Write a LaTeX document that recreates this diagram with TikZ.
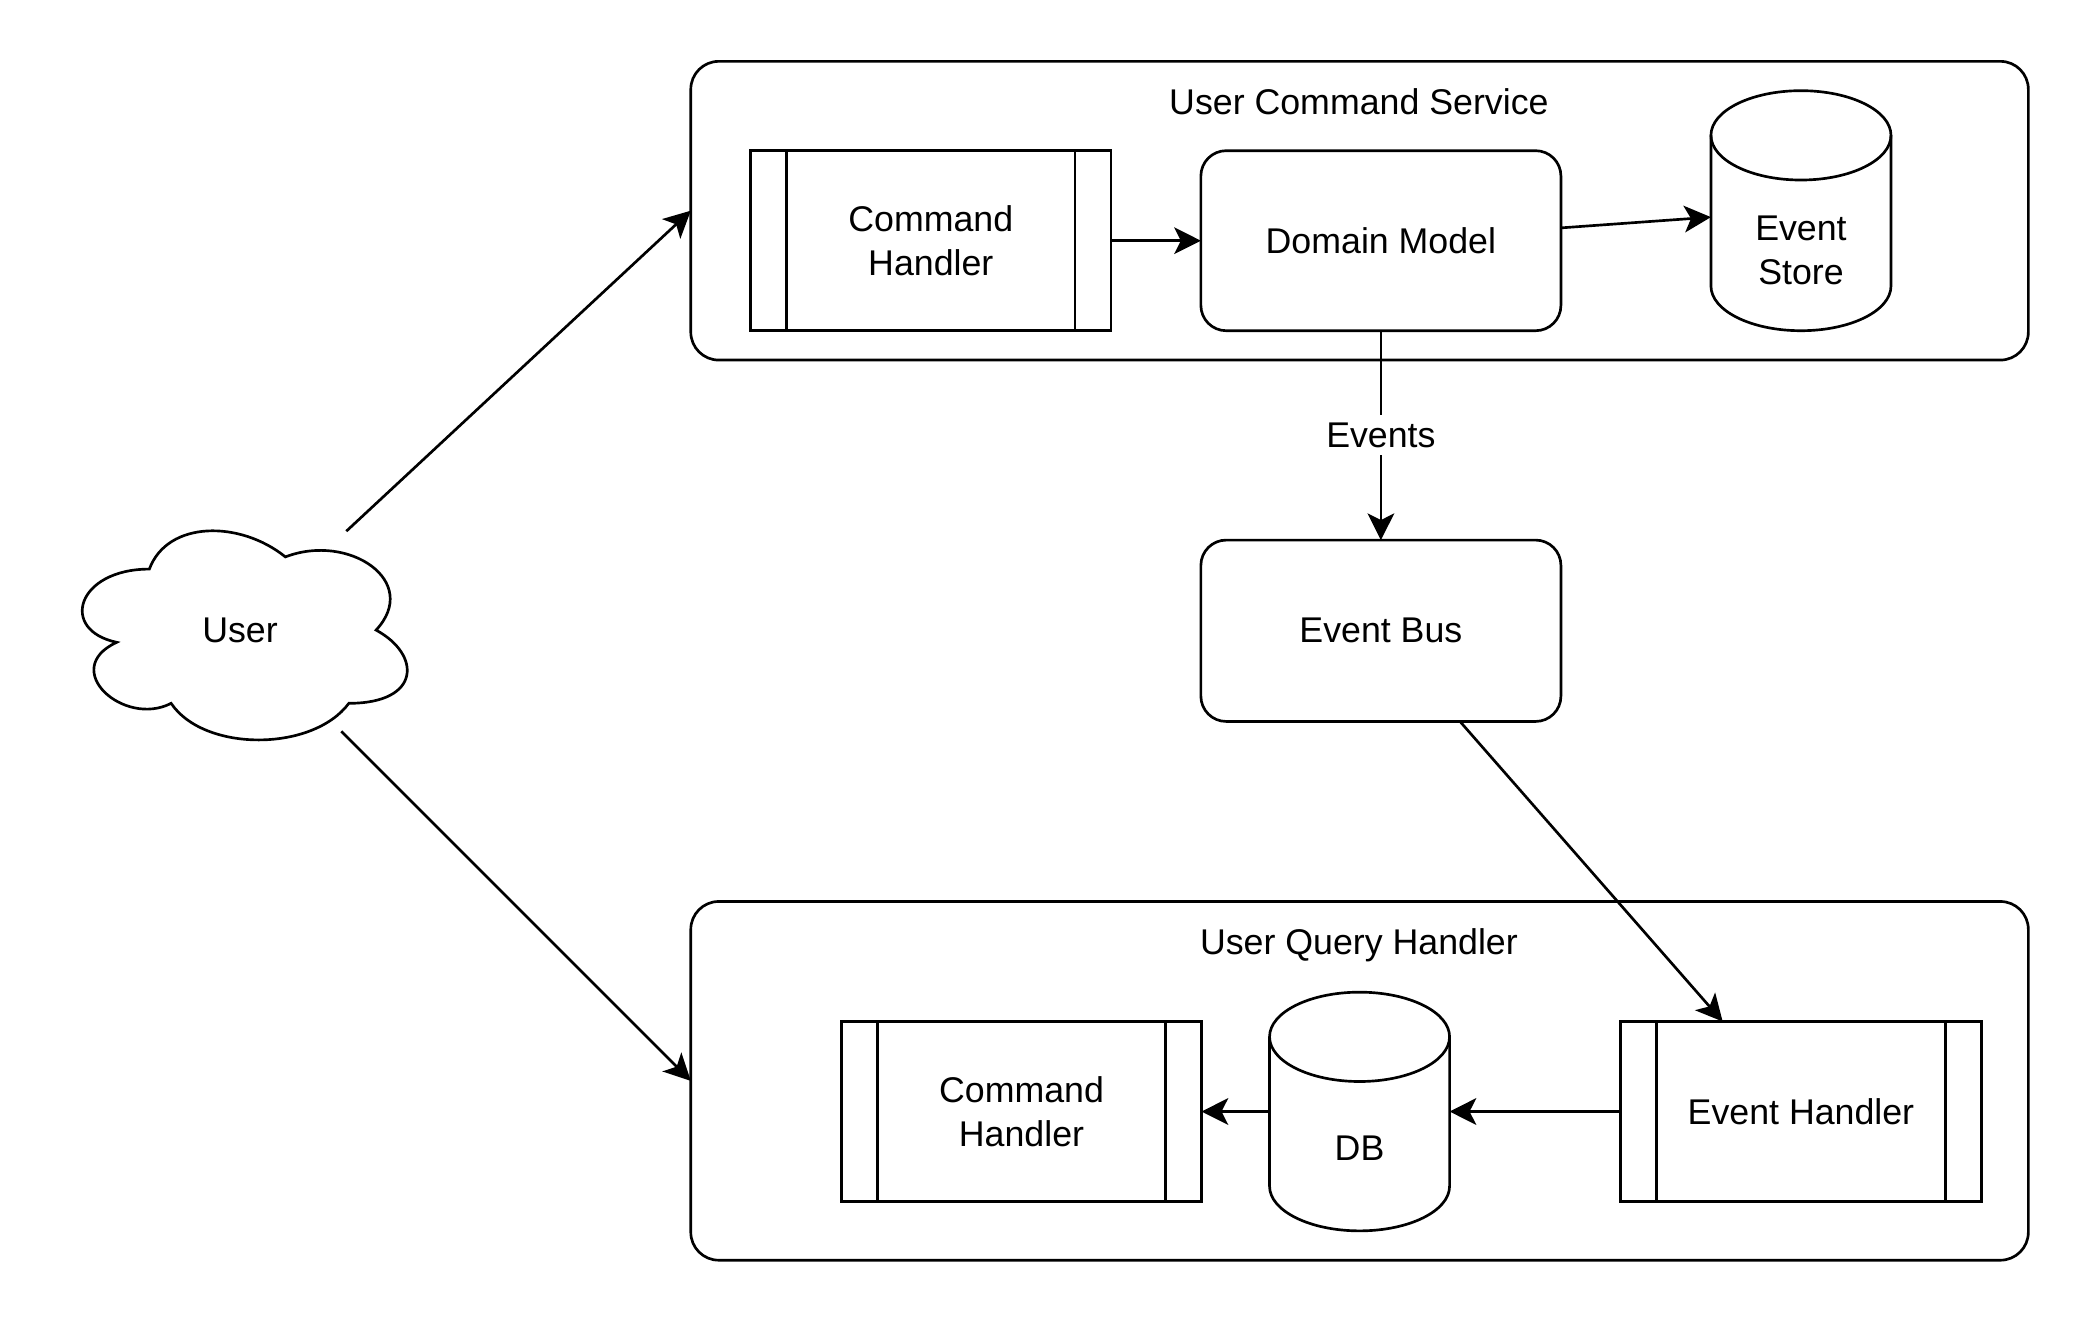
\documentclass[tikz,border=0pt]{standalone}
\usepackage{fontspec}
\setmainfont{Liberation Sans}
\usetikzlibrary{arrows.meta,shapes.geometric}
\begin{document}
\begin{tikzpicture}[x=1pt,y=-1pt,
  every node/.style={font=\fontsize{26.8}{33}\selectfont, outer sep=0pt},
  ln/.style={line width=2pt},
  container/.style={ln, draw, rounded corners=21pt, minimum width=1003pt, inner sep=0pt},
  rbox/.style={ln, draw, rounded corners=19pt, minimum width=270pt, minimum height=135pt, align=center},
  proc/.style={ln, draw, minimum width=270pt, minimum height=135pt, align=center},
  cyl/.style={minimum width=135pt, minimum height=180pt, inner sep=0pt},
  txt/.style={align=center, inner sep=0pt},
  title/.style={anchor=base, inner sep=0pt},
  arr/.style={ln, -{Stealth[length=20pt,width=20pt,inset=5pt]}},
]
\fill[white] (0,0) rectangle (1568,992);
\useasboundingbox (0,0) rectangle (1568,992);

% containers
\node[container, minimum height=224pt] (cmdsvc) at (1019.5,158) {};
\node[title] (cmdsvctitle) at (1019,85.5) {User Command Service};
\node[container, minimum height=269pt] (qry) at (1019.5,810.5) {};
\node[title] (qrytitle) at (1019,715.5) {User Query Handler};

% top row
\node[proc] (ch1) at (698,180.5) {Command\\Handler};
\draw[ln] ([xshift=27pt]ch1.north west) -- ([xshift=27pt]ch1.south west);
\draw[ln] ([xshift=-27pt]ch1.north east) -- ([xshift=-27pt]ch1.south east);

\node[rbox] (dm) at (1035.5,180.5) {Domain Model};

\node[cyl] (es) at (1350.5,158) {};
\draw[ln] ([yshift=-33.5pt]es.north west) -- ([yshift=33.5pt]es.south west)
  arc[start angle=180, end angle=360, x radius=67.5pt, y radius=33.5pt]
  -- ([yshift=-33.5pt]es.north east);
\draw[ln] ([yshift=-33.5pt]es.north) ellipse[x radius=67.5pt, y radius=33.5pt];
\node[txt] (estext) at (1350.5,187.5) {Event\\Store};

% event bus
\node[rbox, minimum height=136pt] (eb) at (1035.5,473) {Event Bus};

% user cloud
\node[ellipse, minimum width=272pt, minimum height=183pt, inner sep=0pt] (user) at (180,472.5) {User};
\draw[ln] (112,426.75)
  .. controls (57.6,426.75) and (44,472.5) .. (87.52,481.65)
  .. controls (44,501.78) and (92.96,545.7) .. (128.32,527.4)
  .. controls (152.8,564) and (234.4,564) .. (261.6,527.4)
  .. controls (316,527.4) and (316,490.8) .. (282,472.5)
  .. controls (316,435.9) and (261.6,399.3) .. (214,417.6)
  .. controls (180,390.15) and (125.6,390.15) .. (112,426.75) -- cycle;

% bottom row
\node[proc] (ch2) at (766,833.5) {Command\\Handler};
\draw[ln] ([xshift=27pt]ch2.north west) -- ([xshift=27pt]ch2.south west);
\draw[ln] ([xshift=-27pt]ch2.north east) -- ([xshift=-27pt]ch2.south east);

\node[cyl, minimum height=179pt] (db) at (1019.5,833.5) {};
\draw[ln] ([yshift=-33.5pt]db.north west) -- ([yshift=33.5pt]db.south west)
  arc[start angle=180, end angle=360, x radius=67.5pt, y radius=33.5pt]
  -- ([yshift=-33.5pt]db.north east);
\draw[ln] ([yshift=-33.5pt]db.north) ellipse[x radius=67.5pt, y radius=33.5pt];
\node[txt] (dbtext) at (1019.5,861) {DB};

\node[proc, minimum width=271pt] (eh) at (1350.5,833.5) {Event Handler};
\draw[ln] ([xshift=27pt]eh.north west) -- ([xshift=27pt]eh.south west);
\draw[ln] ([xshift=-27pt]eh.north east) -- ([xshift=-27pt]eh.south east);

% connectors
\draw[arr] (user) -- (cmdsvc.west);
\draw[arr] (user) -- (qry.west);
\draw[arr] (ch1) -- (dm);
\draw[arr] (dm) -- (es);
\draw[arr] (dm) -- node[fill=white, inner sep=0pt, text height=24.2pt, text depth=5.7pt] (evlabel) {Events} (eb);
\draw[arr] (eb) -- (eh);
\draw[arr] (eh) -- (db);
\draw[arr] (db) -- (ch2);
\end{tikzpicture}
\end{document}
